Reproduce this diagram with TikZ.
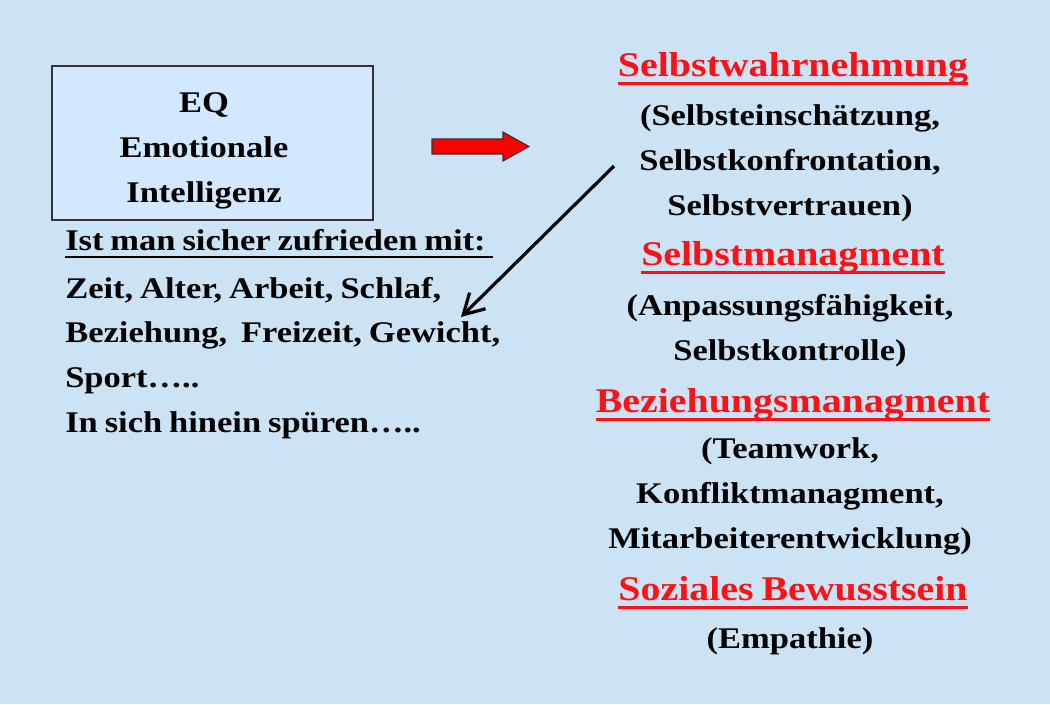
\documentclass[tikz,border=0pt]{standalone}
\usepackage{fontspec}
\setmainfont[FakeStretch=1.15, WordSpace=0.8]{Liberation Serif}
\usepackage{tikz}
\usetikzlibrary{arrows.meta, positioning}
\definecolor{slidebg}{RGB}{204,227,246}
\definecolor{boxfill}{RGB}{210,232,255}
\definecolor{headred}{RGB}{255,16,20}
\tikzset{
  bodytext/.style={
    font=\bfseries\fontsize{22.5pt}{33.4pt}\selectfont,
    inner sep=0pt, anchor=base,
  },
  headtext/.style={
    font=\bfseries\fontsize{26pt}{30pt}\selectfont,
    text=headred, inner sep=0pt, anchor=base,
  },
  headline/.style={draw=headred, line width=2.2pt},
  listline/.style={draw=black, line width=1.6pt},
  pointer/.style={-{Straight Barb[length=15pt, width=17pt]}, line width=2.4pt},
  blockarrow/.style={fill=red, draw=black!80, line width=0.8pt},
}
\begin{document}
\begin{tikzpicture}[x=0.75pt, y=-0.75pt]

  % Slide background
  \fill[slidebg] (0,0) rectangle (1050,704);
  \useasboundingbox (0,0) rectangle (1050,704);

  % Left: EQ box and list (multi-line nodes sit on their last baseline)
  \node[draw=black!80, fill=boxfill, line width=0.8pt, inner sep=0pt,
        minimum width=240.75pt, minimum height=115.5pt] (eqbox) at (212.5,143) {};
  \node[bodytext, align=center] (eq) at (204,202) {EQ\\Emotionale\\Intelligenz};

  \node[bodytext, anchor=base west] (frage) at (65,250) {Ist man sicher zufrieden mit:\ \ };
  \draw[listline] ([yshift=-5.3pt]frage.base west) -- ([yshift=-5.3pt]frage.base east);
  \node[bodytext, anchor=base west, align=left] (liste) at (65,432)
    {Zeit, Alter, Arbeit, Schlaf,\\Beziehung,\ \ Freizeit, Gewicht,\\Sport…..\\In sich hinein spüren…..};

  % Right: four areas
  \node[headtext] (wahr) at (793,76) {Selbstwahrnehmung\ };
  \draw[headline] ([yshift=-5.5pt]wahr.base west) -- ([yshift=-5.5pt]wahr.base east);
  \node[bodytext, align=center] (wahrtxt) at (790,215)
    {(Selbsteinschätzung,\\Selbstkonfrontation,\\Selbstvertrauen)};

  \node[headtext] (mgmt) at (793,265) {Selbstmanagment\ };
  \draw[headline] ([yshift=-5.5pt]mgmt.base west) -- ([yshift=-5.5pt]mgmt.base east);
  \node[bodytext, align=center] (mgmttxt) at (790,360)
    {(Anpassungsfähigkeit,\\Selbstkontrolle)};

  \node[headtext] (bez) at (793,412) {Beziehungsmanagment\ };
  \draw[headline] ([yshift=-5.5pt]bez.base west) -- ([yshift=-5.5pt]bez.base east);
  \node[bodytext, align=center] (beztxt) at (790,548)
    {(Teamwork,\\Konfliktmanagment,\\Mitarbeiterentwicklung)};

  \node[headtext] (soz) at (793,600) {Soziales Bewusstsein\ };
  \draw[headline] ([yshift=-5.5pt]soz.base west) -- ([yshift=-5.5pt]soz.base east);
  \node[bodytext, align=center] (soztxt) at (790,648) {(Empathie)};

  % Arrows
  \draw[blockarrow] (432,139) -- (503,139) -- (503,132) -- (529,146.5)
    -- (503,161) -- (503,154) -- (432,154) -- cycle;
  \coordinate (zeigstart) at (614,166);
  \coordinate (zeigend) at (461,317);
  \draw[pointer] (zeigstart) -- (zeigend);

\end{tikzpicture}
\end{document}
